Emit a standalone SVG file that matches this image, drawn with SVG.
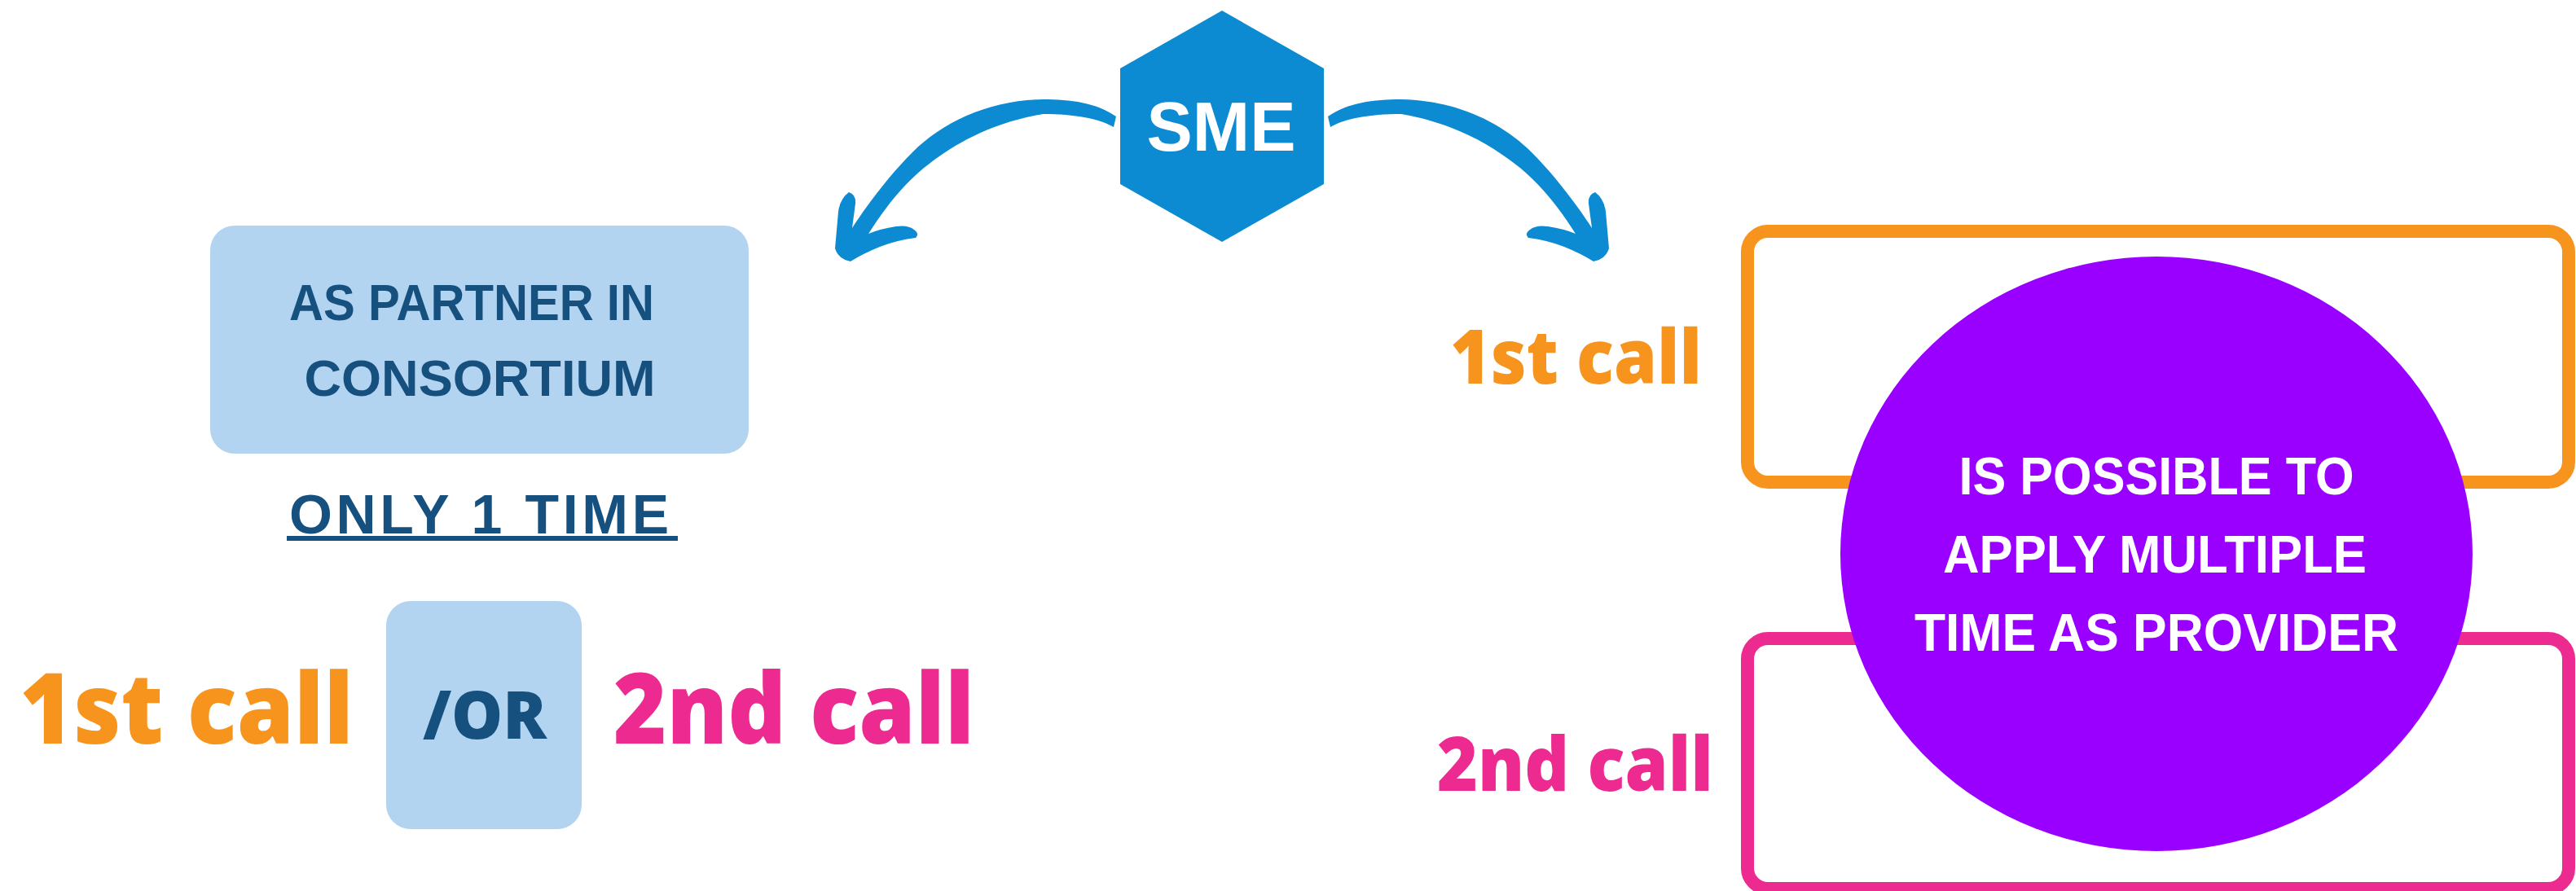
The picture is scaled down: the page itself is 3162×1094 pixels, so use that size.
<svg xmlns="http://www.w3.org/2000/svg" width="3162" height="1094" viewBox="0 0 3162 1094">
<style>
.blue{fill:#0C8BD3}
.lb{fill:#B3D4F0}
.dk{fill:#16507F;font-family:"Liberation Sans",Arial,sans-serif;font-weight:700}
.call{font-family:"Open Sans","Liberation Sans",sans-serif;font-weight:800}
.or{fill:#F7941D}
.pk{fill:#EC2A8F}
.wt{fill:#FFFFFF;font-family:"Liberation Sans",Arial,sans-serif;font-weight:700}
</style>
<defs>
<path id="arrowL" d="M1370,143 C1345,126 1315,122 1280,122 C1215,123 1158,149 1120,187 C1093,214 1066,249 1046,280 L1050,250 Q1051,239 1042,236 Q1031,244 1029,260 L1025,305 Q1029,318 1044,321 Q1060,311 1080,303 Q1100,295 1124,292 Q1129,287 1122,282 Q1115,276 1100,278 Q1080,281 1066,287 C1082,262 1107,226 1142,200 C1172,177 1216,151 1280,140 C1320,140 1350,146 1367,156 Z"/>
</defs>
<rect width="3162" height="1094" fill="#FFFFFF"/>
<g id="connectors">
<use href="#arrowL" class="blue"/>
<use href="#arrowL" class="blue" transform="translate(3000,0) scale(-1,1)"/>
</g>
<g id="sme">
<polygon class="blue" points="1500,13 1625,84 1625,226 1500,297 1375,226 1375,84"/>
<text class="wt" x="1499" y="185" font-size="86" text-anchor="middle" textLength="183" lengthAdjust="spacingAndGlyphs">SME</text>
</g>
<g id="partner">
<rect class="lb" x="258" y="277" width="661" height="280" rx="30"/>
<text class="dk" x="579" y="393" font-size="63" text-anchor="middle" textLength="448" lengthAdjust="spacingAndGlyphs">AS PARTNER IN</text>
<text class="dk" x="589" y="486" font-size="63" text-anchor="middle" textLength="431" lengthAdjust="spacingAndGlyphs">CONSORTIUM</text>
</g>
<g id="only-once">
<text class="dk" x="588" y="655" font-size="68" text-anchor="middle" textLength="466" lengthAdjust="spacing">ONLY 1 TIME</text>
<rect x="352" y="658" width="480" height="6" fill="#16507F"/>
</g>
<g id="left-first-call">
<text class="call or" x="24" y="913" font-size="120" textLength="410" lengthAdjust="spacingAndGlyphs">1st call</text>
</g>
<g id="or-box">
<rect class="lb" x="474" y="738" width="240" height="280" rx="30"/>
<text class="call" x="595" y="907" font-size="82" fill="#16507F" font-weight="700" text-anchor="middle" textLength="152" lengthAdjust="spacingAndGlyphs">/OR</text>
</g>
<g id="left-second-call">
<text class="call pk" x="753" y="913" font-size="120" textLength="443" lengthAdjust="spacingAndGlyphs">2nd call</text>
</g>
<g id="first-call-box">
<rect x="2145" y="284" width="1008" height="308" rx="25" fill="none" stroke="#F7941D" stroke-width="16"/>
<text class="call or" x="1780" y="471" font-size="92" textLength="309" lengthAdjust="spacingAndGlyphs">1st call</text>
</g>
<g id="second-call-box">
<rect x="2145" y="784" width="1008" height="307" rx="25" fill="none" stroke="#EC2A8F" stroke-width="16"/>
<text class="call pk" x="1764" y="971" font-size="92" textLength="339" lengthAdjust="spacingAndGlyphs">2nd call</text>
</g>
<g id="provider">
<ellipse cx="2647" cy="680" rx="388" ry="365" fill="#9900FF"/>
<text class="wt" x="2647" y="607" font-size="64" text-anchor="middle" textLength="485" lengthAdjust="spacingAndGlyphs">IS POSSIBLE TO</text>
<text class="wt" x="2645" y="703" font-size="64" text-anchor="middle" textLength="520" lengthAdjust="spacingAndGlyphs">APPLY MULTIPLE</text>
<text class="wt" x="2647" y="799" font-size="64" text-anchor="middle" textLength="594" lengthAdjust="spacingAndGlyphs">TIME AS PROVIDER</text>
</g>
</svg>
